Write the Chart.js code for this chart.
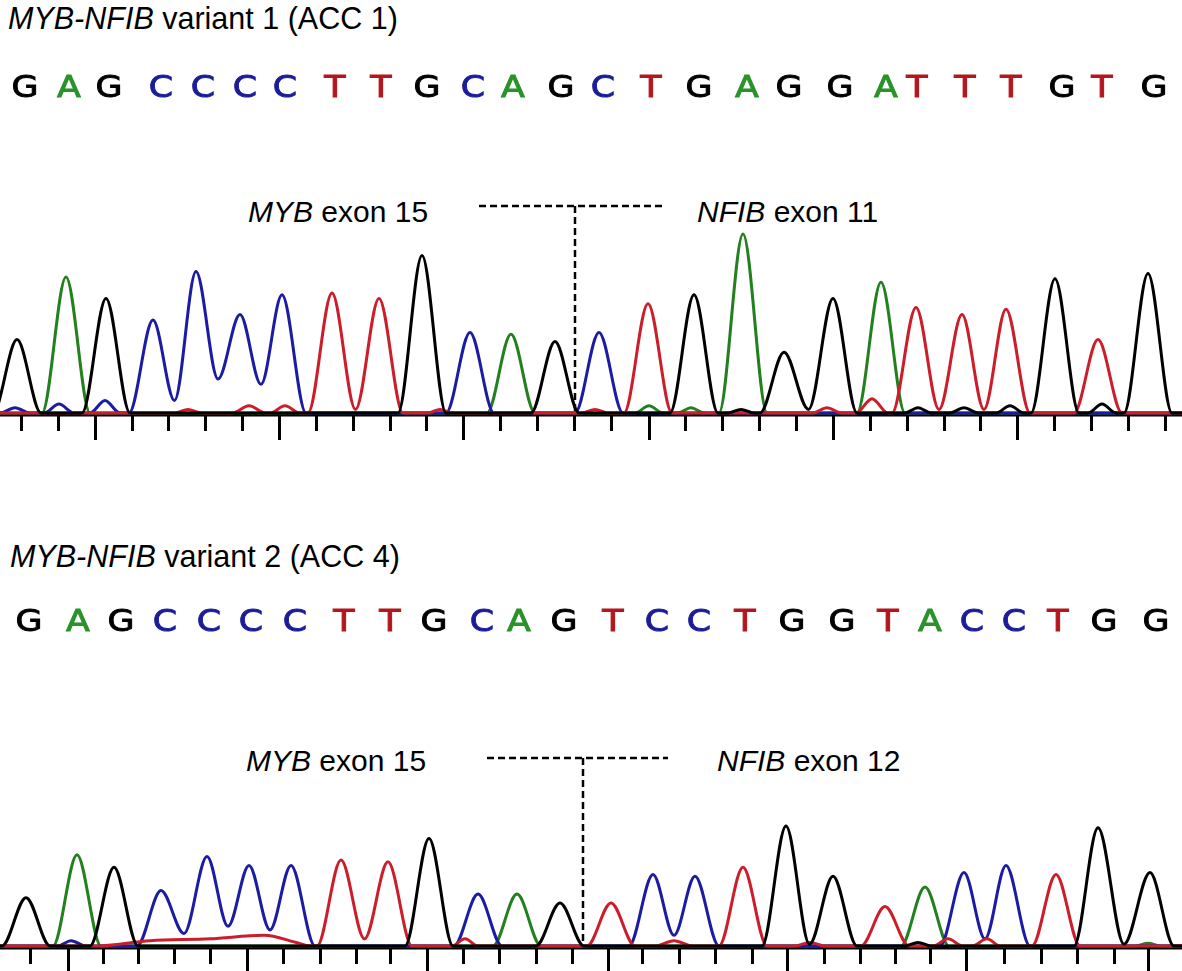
<!DOCTYPE html>
<html>
<head>
<meta charset="utf-8">
<script src="https://cdn.jsdelivr.net/npm/chart.js@4.4.0/dist/chart.umd.min.js"></script>
<style>
  body { margin: 0; background: #fff; font-family: "Liberation Sans", Arial, sans-serif; }
  #wrap { position: relative; width: 1182px; height: 971px; overflow: hidden; }
  #wrap canvas { position: absolute; left: 0; }
  .lbl { position: absolute; font-size: 30px; line-height: 30px; color: #000; white-space: nowrap; }
</style>
</head>
<body>
<div id="wrap">
  <div class="lbl" style="left:8px;top:3px;font-size:30.5px"><i>MYB-NFIB</i> variant 1 (ACC 1)</div>
  <div class="lbl" style="left:248px;top:197px"><i>MYB</i> exon 15</div>
  <div class="lbl" style="left:697px;top:197px"><i>NFIB</i> exon 11</div>
  <canvas id="c1" width="1182" height="460" style="top:0"></canvas>

  <div class="lbl" style="left:10px;top:541px;font-size:30.5px"><i>MYB-NFIB</i> variant 2 (ACC 4)</div>
  <div class="lbl" style="left:246px;top:746px"><i>MYB</i> exon 15</div>
  <div class="lbl" style="left:717px;top:746px"><i>NFIB</i> exon 12</div>
  <canvas id="c2" width="1182" height="481" style="top:490px"></canvas>
</div>
<script>
// called bases (one per peak)
const seq1 = 'GAGCCCCTTGCAGCTGAGGATTTGTG';
const seq2 = 'GAGCCCCTTGCAGTCCTGGTACCTGG';

// peak positions (trace scan units) and heights (signal, max peak = 100)
const peakX1 = [17, 66, 106, 153, 196, 240, 282, 332, 379, 422, 470, 511, 555, 599, 648, 694, 743, 784, 833, 881, 916, 962, 1006, 1055, 1098, 1148];
const peakH1 = [41, 76, 64, 52, 79, 55, 66, 67, 64, 88, 45, 44, 40, 45, 61, 66, 100, 34, 64, 73, 59, 55, 58, 75, 41, 78];
const peakX2 = [26, 77, 114, 161, 207, 249, 291, 341, 388, 429, 478, 517, 560, 611, 653, 695, 743, 786, 833, 885, 925, 964, 1006, 1056, 1098, 1150];
const peakH2 = [27, 51, 44, 31, 50, 45, 45, 48, 47, 60, 29, 29, 24, 24, 40, 39, 44, 67, 39, 22, 33, 41, 45, 40, 66, 41];

// valley between two neighbouring peaks of the same base: [left peak index, signal]
const valleys1 = [[3, 7], [4, 19], [5, 16], [7, 2], [17, 2], [20, 2], [21, 2]];
const valleys2 = [[3, 7], [4, 11], [5, 9], [7, 4], [14, 6], [17, 1], [21, 4], [24, 1]];

// small background signal under the main peaks: [scan, signal]
const noise1 = {
  C: [[0, 0], [15, 3], [30, 0], [44, 0], [59, 5], [74, 0], [90, 0], [105, 7], [120, 0]],
  T: [[175, 0], [188, 2], [201, 0], [232, 0], [249, 4], [266, 0], [270, 0], [285, 4], [300, 0],
      [428, 0], [440, 2], [452, 0], [582, 0], [595, 2], [608, 0], [813, 0], [827, 3], [841, 0],
      [856, 0], [872, 8], [888, 0]],
  A: [[635, 0], [649, 4], [663, 0], [678, 0], [691, 3], [704, 0]],
  G: [[728, 0], [741, 2], [754, 0], [905, 0], [918, 3], [931, 0], [950, 0], [964, 3], [978, 0],
      [996, 0], [1010, 4], [1024, 0], [1088, 0], [1102, 5], [1116, 0]]
};
const noise2 = {
  C: [[58, 0], [71, 3], [86, 0]],
  T: [[95, 0], [150, 3], [210, 4], [264, 6], [296, 2], [310, 0], [452, 0], [465, 4], [478, 0],
      [655, 0], [674, 3], [693, 0], [795, 0], [810, 2], [825, 0], [933, 0], [948, 4], [963, 0],
      [972, 0], [987, 4], [1000, 0]],
  A: [[1135, 0], [1148, 1.5], [1161, 0]],
  G: [[905, 0], [918, 2], [931, 0]]
};

// base-call letters and scan ticks
const letterX1 = [25, 69, 109, 161, 203, 245, 285, 335, 381, 427, 473, 513, 561, 603, 651, 699, 747, 789, 840, 886, 917, 965, 1011, 1062, 1102, 1154];
const letterX2 = [29, 78, 121, 165, 209, 251, 295, 344, 390, 434, 482, 519, 564, 613, 657, 699, 745, 792, 842, 888, 930, 972, 1014, 1058, 1104, 1156];
const ticks1 = [21, 58, 95, 132, 168, 205, 242, 279, 316, 353, 390, 426, 463, 500, 537, 574, 611, 649, 685, 722, 759, 796, 833, 870, 907, 944, 980, 1017, 1054, 1091, 1128, 1165];
const ticks2 = [30, 68, 103, 138, 174, 210, 247, 283, 320, 356, 390, 427, 463, 499, 536, 572, 608, 642, 679, 715, 752, 787, 824, 860, 895, 930, 966, 1004, 1041, 1077, 1114, 1148];

// fusion junction marker: [left end, junction, right end]
const junction1 = [479, 575, 664];
const junction2 = [487, 583, 668];

const traceColors = { A: '#23801f', C: '#1b1ba3', G: '#000000', T: '#cc1d2a' };
const letterColors = { A: '#2a922a', C: '#1c1c98', G: '#000000', T: '#b3161d' };
const HW = 24;

function buildTrace(seq, xs, hs, valleys, base, noise) {
  const vmap = new Map(valleys);
  const pts = [{ x: -40, y: 0 }, { x: 1230, y: 0 }];
  for (let i = 0; i < seq.length; i++) {
    if (seq[i] !== base) continue;
    if (!(i > 0 && seq[i - 1] === base)) pts.push({ x: xs[i] - HW, y: 0 });
    pts.push({ x: xs[i], y: hs[i] });
    if (i < seq.length - 1 && seq[i + 1] === base) {
      pts.push({ x: (xs[i] + xs[i + 1]) / 2, y: vmap.has(i) ? vmap.get(i) : 0 });
    } else {
      pts.push({ x: xs[i] + HW, y: 0 });
    }
  }
  (noise[base] || []).forEach(p => pts.push({ x: p[0], y: p[1] }));
  pts.sort((a, b) => a.x - b.x);
  return pts;
}

const seqDeco = {
  id: 'seqDeco',
  beforeDatasetsDraw(chart, args, o) {
    const { ctx } = chart;
    const xs = chart.scales.x;
    const y0 = chart.scales.y.getPixelForValue(0) + 2;
    ctx.save();
    ctx.strokeStyle = '#000';
    ctx.lineWidth = 3;
    ctx.beginPath();
    ctx.moveTo(0, y0);
    ctx.lineTo(chart.width, y0);
    ctx.stroke();
    o.ticks.forEach((t, i) => {
      const px = Math.round(xs.getPixelForValue(t)) + 0.5;
      const long = (i - o.longFrom) % 5 === 0;
      ctx.beginPath();
      ctx.moveTo(px, y0);
      ctx.lineTo(px, y0 + (long ? 25 : 16));
      ctx.stroke();
    });
    ctx.restore();
  },
  afterDraw(chart, args, o) {
    const { ctx } = chart;
    const xs = chart.scales.x;
    ctx.save();
    // sequence letters
    ctx.font = '30px "DejaVu Sans", sans-serif';
    ctx.textAlign = 'center';
    ctx.textBaseline = 'middle';
    ctx.lineWidth = 0.9;
    o.seq.split('').forEach((b, i) => {
      ctx.save();
      ctx.translate(xs.getPixelForValue(o.letterX[i]), o.letterY);
      ctx.scale(1.16, 1);
      ctx.fillStyle = letterColors[b];
      ctx.strokeStyle = letterColors[b];
      ctx.fillText(b, 0, 0);
      ctx.strokeText(b, 0, 0);
      ctx.restore();
    });
    // junction marker
    const [l, m, r] = o.junction.map(v => xs.getPixelForValue(v));
    const yb = chart.scales.y.getPixelForValue(0) - 2;
    ctx.strokeStyle = '#000';
    ctx.lineWidth = 2.5;
    ctx.setLineDash([7, 4]);
    ctx.beginPath();
    ctx.moveTo(l, o.markY);
    ctx.lineTo(r, o.markY);
    ctx.moveTo(Math.round(m), o.markY);
    ctx.lineTo(Math.round(m), yb);
    ctx.stroke();
    ctx.restore();
  }
};

function makeChart(id, seq, xs, hs, valleys, noise, deco, padTop, padBottom) {
  // first dataset is drawn on top
  const order = ['G', 'T', 'C', 'A'];
  new Chart(document.getElementById(id), {
    type: 'line',
    data: {
      datasets: order.map(b => ({
        label: b,
        data: buildTrace(seq, xs, hs, valleys, b, noise),
        borderColor: traceColors[b],
        borderWidth: 3,
        pointRadius: 0,
        cubicInterpolationMode: 'monotone',
        fill: false,
        clip: false
      }))
    },
    options: {
      responsive: false,
      animation: false,
      events: [],
      layout: { padding: { top: padTop, bottom: padBottom, left: 0, right: 0 } },
      scales: {
        x: { type: 'linear', min: 0, max: 1182, display: false },
        y: { min: 0, max: 100, display: false }
      },
      plugins: {
        legend: { display: false },
        tooltip: { enabled: false },
        seqDeco: deco
      }
    },
    plugins: [seqDeco]
  });
}

makeChart('c1', seq1, peakX1, peakH1, valleys1, noise1,
  { seq: seq1, letterX: letterX1, letterY: 89, ticks: ticks1, longFrom: 2, junction: junction1, markY: 206 },
  234, 47);
makeChart('c2', seq2, peakX2, peakH2, valleys2, noise2,
  { seq: seq2, letterX: letterX2, letterY: 133, ticks: ticks2, longFrom: 1, junction: junction2, markY: 268 },
  277, 25);
</script>
</body>
</html>
